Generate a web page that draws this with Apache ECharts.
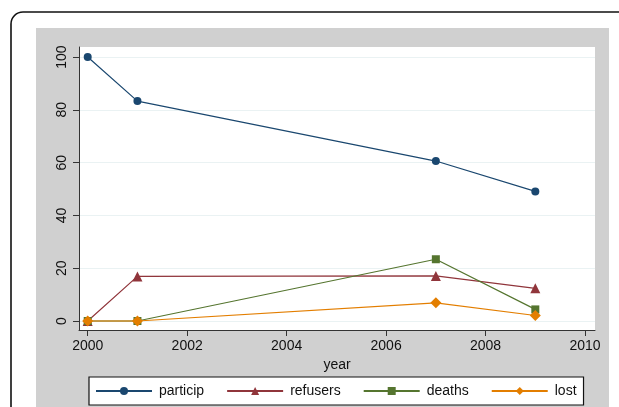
<!DOCTYPE html>
<html>
<head>
<meta charset="utf-8">
<script src="https://cdn.jsdelivr.net/npm/echarts@6/dist/echarts.min.js"></script>
<style>
html,body{margin:0;padding:0;background:#fff;}
#c{width:619px;height:407px;}
</style>
</head>
<body>
<div id="c"></div>
<script>
var years = [2000, 2001, 2007, 2009];
var particip = [100, 83.3, 60.6, 49.1];
var refusers = [0, 16.9, 17.1, 12.4];
var deaths = [0, 0, 23.4, 4.4];
var lost = [0, 0, 6.9, 2.1];
var xTicks = [2000, 2002, 2004, 2006, 2008, 2010];
var yTicks = [0, 20, 40, 60, 80, 100];
var names = ['particip', 'refusers', 'deaths', 'lost'];

function pairs(v){ return years.map(function(y,i){ return [y, v[i]]; }); }

var chart = echarts.init(document.getElementById('c'), null, {renderer:'canvas'});
var font = 'Liberation Sans, Arial, Helvetica, sans-serif';
var colors = ['#1a476f', '#90353b', '#55752f', '#e37e00'];
var symbols = ['circle', 'triangle', 'rect', 'diamond'];
var sizes = [8, 10, 8, 11];
var values = [particip, refusers, deaths, lost];

var series = names.map(function(n, i){
  return {
    name: n, type: 'line', data: pairs(values[i]),
    symbol: symbols[i], symbolSize: sizes[i], showAllSymbol: true,
    itemStyle: {color: colors[i]},
    lineStyle: {color: colors[i], width: 1.2},
    emphasis: {disabled: true}, animation: false, z: 2 + i
  };
});

chart.setOption({
  animation: false,
  color: colors,
  graphic: [
    {type:'rect', shape:{x:36, y:28, width:573, height:400}, style:{fill:'#d0d0d0'}, z:-10, silent:true},
    {type:'rect', shape:{x:11, y:12, width:700, height:500, r:12}, style:{fill:'none', stroke:'#111', lineWidth:1.6}, z:-9, silent:true}
  ],
  grid: {left:79, right:24, top:47, bottom:77, show:true, backgroundColor:'#fff', borderWidth:0},
  xAxis: {
    type:'value', min:1999.825, max:2010.2,
    name:'year', nameLocation:'middle', nameGap:27,
    nameTextStyle:{fontFamily:font, fontSize:14, color:'#111'},
    axisLine:{show:true, onZero:false, lineStyle:{color:'#333', width:1}},
    axisTick:{show:true, length:6, customValues: xTicks, lineStyle:{color:'#333'}},
    axisLabel:{customValues: xTicks, margin:9, fontFamily:font, fontSize:14, color:'#111',
      formatter: function(v){ return String(Math.round(v)); }},
    splitLine:{show:false}
  },
  yAxis: {
    type:'value', min:-3.4, max:103.8,
    axisLine:{show:true, onZero:false, lineStyle:{color:'#333', width:1}},
    axisTick:{show:true, length:6, customValues: yTicks, lineStyle:{color:'#333'}},
    axisLabel:{customValues: yTicks, rotate:90, margin:10, fontFamily:font, fontSize:14, color:'#111'},
    splitLine:{show:true, customValues: yTicks, lineStyle:{color:'#eaf2f3', width:1}}
  },
  legend: {
    data: names, left:89, top:377, width:494,
    orient:'horizontal',
    backgroundColor:'#fff', borderColor:'#111', borderWidth:1.2, borderRadius:0,
    padding:[7, 7, 7, 6], itemGap:22, itemWidth:56, itemHeight:10,
    textStyle:{fontFamily:font, fontSize:14, color:'#111', padding:[0,0,0,2]},
    selectedMode:false
  },
  series: series
});
</script>
</body>
</html>
